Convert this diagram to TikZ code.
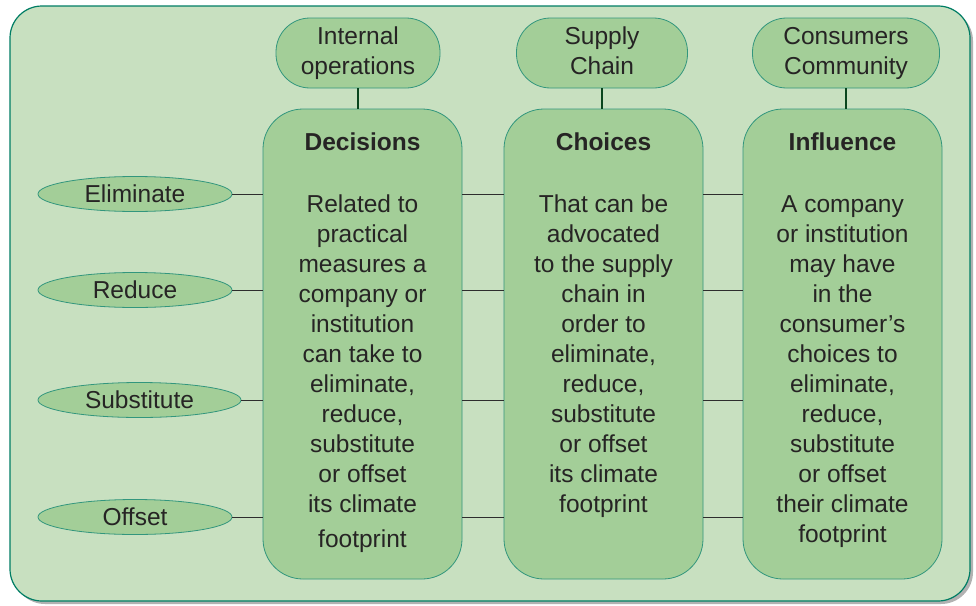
\documentclass[tikz,border=0pt]{standalone}
\usepackage{fontspec}
\setmainfont{Liberation Sans}
\usetikzlibrary{shapes.geometric}
\definecolor{bgfill}{RGB}{200,224,192}
\definecolor{boxfill}{RGB}{163,206,152}
\definecolor{boxline}{RGB}{50,150,125}
\definecolor{frameline}{RGB}{0,125,100}
\definecolor{txt}{RGB}{38,36,36}
\definecolor{vline}{RGB}{10,70,30}
\definecolor{hline}{RGB}{45,45,45}
\tikzset{
  every node/.style={text=txt, font=\fontsize{24.5}{30}\selectfont},
  bigbox/.style={draw=boxline, fill=boxfill, line width=0.8pt, rounded corners=40pt,
    minimum width=199pt, minimum height=470pt, inner sep=0pt},
  pill/.style={draw=boxline, fill=boxfill, line width=0.8pt, rounded corners=34pt,
    minimum height=70pt, align=center, inner sep=0pt},
  lefty/.style={draw=boxline, fill=boxfill, line width=0.8pt, ellipse, inner sep=0pt,
    minimum height=35pt},
  boxtext/.style={align=center, anchor=north, inner sep=0pt},
  hconn/.style={draw=hline, line width=1pt},
  vconn/.style={draw=vline, line width=1.4pt},
}
\begin{document}
\begin{tikzpicture}[x=1pt,y=-1pt]
\useasboundingbox (0,0) rectangle (976,605);
% frame with shadow
\fill[gray!60, rounded corners=32pt] (13,9) rectangle (973,604);
\draw[frameline, fill=bgfill, line width=1.2pt, rounded corners=32pt] (10,6) rectangle (970,601);
% big boxes
\node[bigbox] (D) at (362.5,344) {};
\node[bigbox] (C) at (603.5,344) {};
\node[bigbox] (I) at (842.5,344) {};
% box texts
\node[boxtext] (Dt) at (362.5,132) {\rule{0pt}{18pt}\textbf{Decisions}\\[32pt]
Related to\\practical\\measures a\\company or\\institution\\can take to\\eliminate,\\reduce,\\substitute\\or offset\\its climate\\[5pt]footprint};
\node[boxtext] (Ct) at (603.5,132) {\rule{0pt}{18pt}\textbf{Choices}\\[32pt]
That can be\\advocated\\to the supply\\chain in\\order to\\eliminate,\\reduce,\\substitute\\or offset\\its climate\\footprint};
\node[boxtext] (It) at (842.5,132) {\rule{0pt}{18pt}\textbf{Influence}\\[32pt]
A company\\or institution\\may have\\in the\\consumer’s\\choices to\\eliminate,\\reduce,\\substitute\\or offset\\their climate\\footprint};
% top pills
\node[pill, minimum width=164pt] (P1) at (358,53) {Internal\\operations};
\node[pill, minimum width=171pt] (P2) at (602,53) {Supply\\Chain\vphantom{p}};
\node[pill, minimum width=187pt] (P3) at (846,53) {Consumers\\Community};
% left ellipses
\node[lefty, minimum width=194pt] (E1) at (135,194) {Eliminate};
\node[lefty, minimum width=194pt] (E2) at (135,290) {Reduce};
\node[lefty, minimum width=203pt] (E3) at (139.5,400) {Substitute};
\node[lefty, minimum width=194pt] (E4) at (135,517) {Offset};
% vertical connectors
\draw[vconn] (P1.south) -- (P1.south |- D.north);
\draw[vconn] (P2.south) -- (P2.south |- C.north);
\draw[vconn] (P3.south) -- (P3.south |- I.north);
% horizontal connectors
\foreach \e in {E1,E2,E3,E4}{
  \draw[hconn] (\e.east) -- (\e.east -| D.west);
  \draw[hconn] (\e.east -| D.east) -- (\e.east -| C.west);
  \draw[hconn] (\e.east -| C.east) -- (\e.east -| I.west);
}
\end{tikzpicture}
\end{document}
